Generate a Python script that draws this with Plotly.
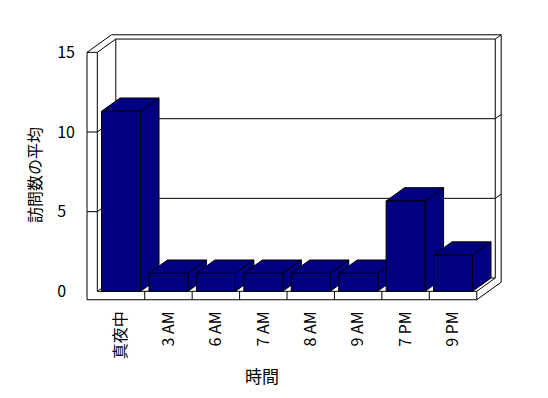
import plotly.graph_objects as go

# ---- data ----
categories = ["真夜中", "3 AM", "6 AM", "7 AM", "8 AM", "9 AM", "7 PM", "9 PM"]
visits = [11.3, 1.13, 1.13, 1.13, 1.13, 1.13, 5.67, 2.27]
y_tickvals = [0, 5, 10, 15]
y_ticktext = ["0\u2007", "5\u2007", "10", "15"]
x_title = "時間"
y_title = "訪問数の平均"

# ---- style / geometry constants ----
NAVY = "#000080"
FONT = "Noto Sans CJK JP"
DX, DY = 0.39, 0.835      # depth vector (data units)
K = 1.32                  # back face of back wall (depth factor)
HALF = 0.411              # half bar width
LW, FT = 0.217, 0.53      # left wall / floor thickness
YMAX = 15
n = len(categories)
X0, X1 = -0.5, n - 0.5


def p(x, y, d=0.0):
    return (x + d * DX, y + d * DY)


def lines_from(segs):
    xs, ys = [], []
    for pts in segs:
        for q in pts:
            xs.append(q[0]); ys.append(q[1])
        xs.append(None); ys.append(None)
    return xs, ys


def polys_from(polys):
    xs, ys = [], []
    for pts in polys:
        for q in pts + [pts[0]]:
            xs.append(q[0]); ys.append(q[1])
        xs.append(None); ys.append(None)
    return xs, ys


# frame (walls + floor)
frame = [
    [p(X0 - LW, -FT), p(X0 - LW, YMAX), p(X0, YMAX), p(X0, 0), p(X1, 0), p(X1, -FT), p(X0 - LW, -FT)],
    [p(X0 - LW, YMAX), p(X0 - LW, YMAX, K), p(X1, YMAX, K), p(X1, -FT, K), p(X1, -FT)],
    [p(X0, YMAX), p(X0, YMAX, 1)],
    [p(X1, 0), p(X1, 0, 1)],
    [p(X0, YMAX, 1), p(X1, YMAX, 1), p(X1, 0, 1), p(X0, 0, 1), p(X0, YMAX, 1)],
    [p(X1, YMAX, 1), p(X1, YMAX, K)],
    [p(X0, 0), p(X0, 0, 1)],
]
for v in y_tickvals[1:-1]:
    frame.append([p(X0 - LW, v), p(X0, v), p(X0, v, 1), p(X1, v, 1), p(X1, v, K)])
for k in range(1, n):
    frame.append([p(X0 + k, 0), p(X0 + k, -FT)])

fig = go.Figure()
fx, fy = lines_from(frame)
fig.add_trace(go.Scatter(x=fx, y=fy, mode="lines", line=dict(color="black", width=1),
                         hoverinfo="skip"))

sides, tops, fronts = [], [], []
for i, v in enumerate(visits):
    xl, xr = i - HALF, i + HALF
    sides.append([p(xr, 0), p(xr, v), p(xr, v, 1), p(xr, 0, 1)])
    tops.append([p(xl, v), p(xr, v), p(xr, v, 1), p(xl, v, 1)])
    fronts.append([p(xl, 0), p(xr, 0), p(xr, v), p(xl, v)])

for group in (sides, tops, fronts):
    gx, gy = polys_from(group)
    fig.add_trace(go.Scatter(x=gx, y=gy, mode="lines", fill="toself", fillcolor=NAVY,
                             line=dict(color="black", width=1), hoverinfo="skip"))

fig.update_layout(
    width=548, height=398,
    margin=dict(l=80, r=38, t=30, b=95),
    paper_bgcolor="white", plot_bgcolor="white",
    showlegend=False,
    font=dict(family=FONT, color="black", size=16),
    xaxis=dict(range=[-0.865, 8.201], showgrid=False, zeroline=False, showline=False,
               tickmode="array", tickvals=list(range(n)), ticktext=categories,
               tickangle=-90, ticks="", ticklabelstandoff=4, tickfont=dict(size=16)),
    yaxis=dict(range=[-0.734, 16.403], showgrid=False, zeroline=False, showline=False,
               tickmode="array", tickvals=y_tickvals, ticktext=y_ticktext,
               ticks="", ticklabelstandoff=4, tickfont=dict(size=16)),
    annotations=[
        dict(text=x_title, xref="paper", yref="paper", x=(262 - 80) / 430, y=-(375 - 303) / 273,
             showarrow=False, font=dict(size=17), xanchor="center", yanchor="middle"),
        dict(text=y_title, xref="paper", yref="paper", x=-(80 - 33.5) / 430, y=(303 - 175.5) / 273,
             showarrow=False, font=dict(size=16), textangle=-90, xanchor="center", yanchor="middle"),
    ],
)

fig.write_html("out.html")
